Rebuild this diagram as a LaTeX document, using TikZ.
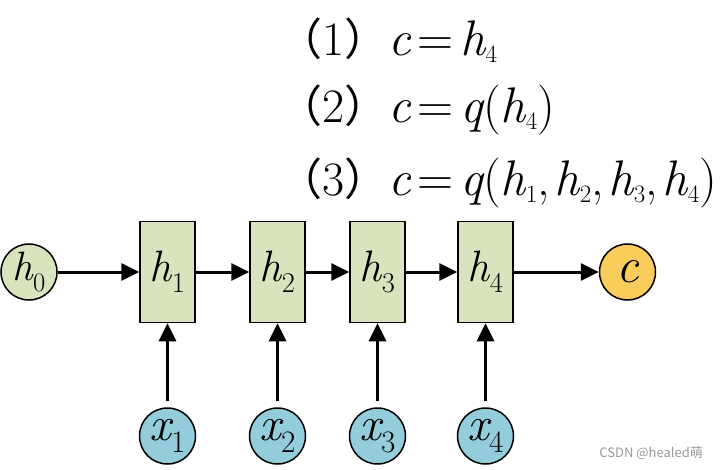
\documentclass[tikz,border=0pt]{standalone}
\usepackage{fontspec}
\usepackage{graphicx}
\newfontfamily\cjk{Noto Sans CJK SC}
\usetikzlibrary{arrows.meta}
\definecolor{hgreen}{HTML}{D7E4BD}
\definecolor{xblue}{HTML}{93CDDC}
\definecolor{cyellow}{HTML}{F9CD5B}
\newcommand{\fsz}[1]{\fontsize{#1}{#1}\selectfont}
\newcommand{\vr}[1]{{\rmfamily\itshape #1}}
\newcommand{\lo}[2][0.65]{\raisebox{-0.25em}{\scalebox{#1}{\rmfamily #2}}}
\newcommand{\elo}[1]{\raisebox{-0.15em}{\scalebox{0.5}{\rmfamily #1}}}
\newcommand{\ntag}[1]{{\cjk\fsz{44}（}{\rmfamily\fsz{48}#1}{\cjk\fsz{44}）}}
\newcommand{\eqs}{\kern7pt{\rmfamily=}\kern7pt}
\newcommand{\cm}{,\kern5pt}
\begin{document}
\begin{tikzpicture}[x=1pt,y=-1pt]
        \tikzstyle{every node}=[inner sep=0pt]
        \tikzstyle{hcell}=[draw, line width=1.5pt, fill=hgreen, minimum width=55pt, minimum height=101pt, font=\rmfamily\fsz{44}]
        \tikzstyle{vcirc}=[circle, draw, line width=1.5pt, minimum size=56pt, font=\rmfamily\fsz{48}]
        \tikzstyle{arr}=[line width=3pt, -{Triangle[length=18pt,width=17pt]}]
        \useasboundingbox (0,0) rectangle (720,469);
        % formulas for c
        \node[anchor=base west, font=\rmfamily\fsz{50}] (eq1) at (278, 55) {\ntag{1}\vr{c}\eqs\vr{h}\elo{4}};
        \node[anchor=base west, font=\rmfamily\fsz{50}] (eq2) at (278,122) {\ntag{2}\vr{c}\eqs\vr{q}(\vr{h}\elo{4})};
        \node[anchor=base west, font=\rmfamily\fsz{50}] (eq3) at (278,195) {\ntag{3}\vr{c}\eqs\vr{q}(\vr{h}\elo{1}\cm\vr{h}\elo{2}\cm\vr{h}\elo{3}\cm\vr{h}\elo{4})};
        % hidden states
        \node[vcirc, fill=hgreen, font=\rmfamily\fsz{41}] (h0) at (29, 272) {\vr{h}\lo{0}};
        \node[hcell] (h1) at (167.5,272) {\vr{h}\lo{1}};
        \node[hcell] (h2) at (277.5,272) {\vr{h}\lo{2}};
        \node[hcell] (h3) at (377.5,272) {\vr{h}\lo{3}};
        \node[hcell] (h4) at (485.5,272) {\vr{h}\lo{4}};
        \node[vcirc, fill=cyellow, font=\rmfamily\fsz{50}] (c) at (627.5,272) {\vr{c}};
        % inputs
        \node[vcirc, fill=xblue] (x1) at (167.5,436) {\vr{x}\lo{1}};
        \node[vcirc, fill=xblue] (x2) at (277.5,436) {\vr{x}\lo{2}};
        \node[vcirc, fill=xblue] (x3) at (377.5,436) {\vr{x}\lo{3}};
        \node[vcirc, fill=xblue] (x4) at (485.5,436) {\vr{x}\lo{4}};
        \draw[arr] (h0) -- (h1);
        \draw[arr] (h1) -- (h2);
        \draw[arr] (h2) -- (h3);
        \draw[arr] (h3) -- (h4);
        \draw[arr] (h4) -- (c);
        \draw[arr, shorten <=6pt] (x1) -- (h1);
        \draw[arr, shorten <=6pt] (x2) -- (h2);
        \draw[arr, shorten <=6pt] (x3) -- (h3);
        \draw[arr, shorten <=6pt] (x4) -- (h4);
        \node[anchor=base east, text=gray!80, font={\cjk\fsz{13}}] (mark) at (703,457) {CSDN @healed萌};
\end{tikzpicture}
\end{document}
